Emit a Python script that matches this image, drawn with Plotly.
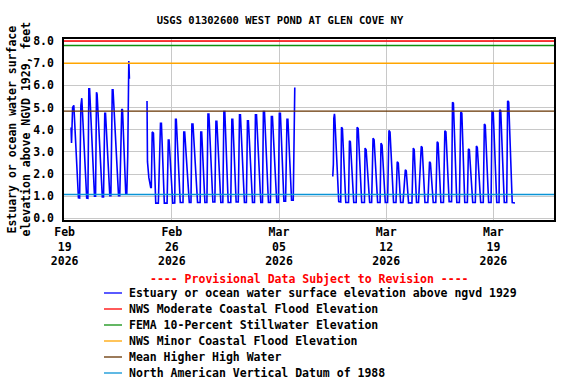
import pandas as pd
import plotly.graph_objects as go

START = pd.Timestamp("2026-02-19 00:00")

# ---- Data (days after 2026-02-19 00:00, elevation ft) ----
seg_a_days = [0.42, 0.45, 0.52, 0.60, 0.90, 0.98, 1.06, 1.12, 1.44, 1.52, 1.58, 1.63,
              1.95, 2.02, 2.08, 2.12, 2.46, 2.54, 2.62, 2.67, 2.95, 3.02, 3.11, 3.16,
              3.52, 3.60, 3.73, 3.78, 3.99, 4.06, 4.12, 4.16, 4.19, 4.23]
seg_a_elev = [4.10, 3.40, 5.00, 5.10, 0.93, 0.92, 5.10, 5.42, 0.92, 0.91, 5.84, 5.84,
              1.00, 1.00, 5.69, 5.60, 0.97, 0.97, 4.74, 4.74, 1.03, 1.03, 5.80, 5.80,
              1.03, 1.03, 4.93, 4.90, 1.14, 1.14, 2.80, 6.50, 7.10, 6.30]

seg_b_days = [5.38, 5.41, 5.50, 5.56, 5.62, 5.66, 5.69, 5.72, 5.80, 5.95, 6.12, 6.22,
              6.26, 6.32, 6.51, 6.69, 6.77, 6.82, 7.06, 7.19, 7.24, 7.29, 7.55, 7.73,
              7.78, 7.84, 8.14, 8.25, 8.31, 8.38, 8.68, 8.85, 8.89, 8.95, 9.16, 9.29,
              9.36, 9.42, 9.68, 9.81, 9.88, 9.94, 10.20, 10.33, 10.40, 10.46, 10.68, 10.85,
              10.92, 10.98, 11.20, 11.34, 11.42, 11.48, 11.74, 11.87, 11.94, 12.00, 12.27, 12.40,
              12.46, 12.53, 12.81, 12.92, 12.98, 13.05, 13.31, 13.44, 13.50, 13.57, 13.85, 13.96,
              14.02, 14.09, 14.32, 14.43, 14.52, 14.58, 14.82, 14.93, 14.98, 15.03]
seg_b_elev = [5.30, 2.56, 1.84, 1.59, 1.40, 1.40, 3.30, 3.90, 3.85, 0.69, 0.69, 4.00,
              4.29, 4.29, 0.69, 0.69, 3.54, 3.54, 0.69, 0.70, 4.47, 4.47, 0.72, 0.72,
              3.89, 3.89, 0.72, 0.72, 4.26, 4.26, 0.72, 0.72, 3.89, 3.89, 0.72, 0.72,
              4.71, 4.71, 0.74, 0.74, 4.38, 4.38, 0.72, 0.72, 4.82, 4.82, 0.72, 0.72,
              4.47, 4.47, 0.74, 0.74, 4.67, 4.67, 0.72, 0.72, 4.40, 4.40, 0.72, 0.72,
              4.67, 4.67, 0.72, 0.72, 4.82, 4.82, 0.72, 0.72, 4.59, 4.59, 0.72, 0.72,
              4.74, 4.74, 0.78, 0.78, 4.47, 4.47, 0.82, 0.82, 5.50, 5.90]

seg_c_days = [17.51, 17.55, 17.58, 17.62, 17.64, 17.90, 18.03, 18.08, 18.14, 18.36, 18.54,
              18.60, 18.66, 18.88, 19.04, 19.10, 19.17, 19.40, 19.58, 19.62, 19.69, 19.92, 20.05,
              20.14, 20.21, 20.44, 20.60, 20.66, 20.73, 20.94, 21.09, 21.18, 21.25, 21.48, 21.64,
              21.72, 21.79, 21.94, 22.10, 22.25, 22.31, 22.46, 22.68, 22.77, 22.83, 22.98, 23.11,
              23.29, 23.35, 23.53, 23.72, 23.83, 23.89, 24.07, 24.24, 24.33, 24.39, 24.57, 24.74,
              24.83, 24.90, 25.11, 25.27, 25.33, 25.39, 25.61, 25.78, 25.87, 25.94, 26.13, 26.30,
              26.37, 26.43, 26.65, 26.82, 26.89, 26.95, 27.17, 27.34, 27.41, 27.47, 27.69, 27.85,
              27.91, 27.99, 28.22, 28.37, 28.41, 28.48, 28.71, 28.87, 28.93, 29.00, 29.23, 29.41]
seg_c_elev = [1.89, 2.44, 4.52, 4.71, 4.60, 0.76, 0.74, 4.11, 4.05, 0.72, 0.72,
              3.50, 3.45, 0.72, 0.72, 4.11, 4.05, 0.72, 0.72, 3.17, 3.10, 0.72, 0.72,
              3.62, 3.55, 0.72, 0.72, 3.39, 3.30, 0.72, 0.72, 3.96, 3.90, 0.72, 0.72,
              2.56, 2.50, 0.72, 0.72, 2.19, 2.15, 0.70, 0.70, 3.17, 3.10, 0.72, 0.72,
              3.25, 3.20, 0.72, 0.72, 2.56, 2.50, 0.72, 0.72, 3.46, 3.40, 0.72, 0.72,
              3.95, 3.90, 0.76, 0.76, 5.24, 5.20, 0.72, 0.72, 4.79, 4.75, 0.72, 0.72,
              3.13, 3.10, 0.72, 0.72, 3.27, 3.20, 0.72, 0.72, 4.26, 4.20, 0.72, 0.72,
              4.82, 4.80, 0.72, 0.72, 4.89, 4.85, 0.72, 0.72, 5.30, 5.25, 0.72, 0.70]

series_name = "Estuary or ocean water surface elevation above ngvd 1929"
series_color = "#0000ff"

threshold_names = ["NWS Moderate Coastal Flood Elevation",
                   "FEMA 10-Percent Stillwater Elevation",
                   "NWS Minor Coastal Flood Elevation",
                   "Mean Higher High Water",
                   "North American Vertical Datum of 1988"]
threshold_vals = [8.0, 7.8, 7.0, 4.84, 1.08]
threshold_colors = ["#ff0000", "#109010", "#ffa500", "#663300", "#0a94d6"]

tick_dates = ["2026-02-19", "2026-02-26", "2026-03-05", "2026-03-12", "2026-03-19"]
tick_text = ["Feb<br>19<br>2026", "Feb<br>26<br>2026", "Mar<br>05<br>2026",
             "Mar<br>12<br>2026", "Mar<br>19<br>2026"]

title_text = "USGS 01302600 WEST POND AT GLEN COVE NY"
ylabel_lines = ["Estuary or ocean water surface", "elevation above NGVD 1929, feet"]
provisional_text = "---- Provisional Data Subject to Revision ----"

x_range = ["2026-02-18 23:00", "2026-03-22 23:00"]
y_range = [-0.07, 8.09]

# ---- Build the series ----
xs, ys = [], []
for d, e in [(seg_a_days, seg_a_elev), (seg_b_days, seg_b_elev), (seg_c_days, seg_c_elev)]:
    t = START + pd.to_timedelta(d, unit="D")
    xs.extend(list(t))
    ys.extend(e)
    xs.append(None)
    ys.append(None)

FONT = "DejaVu Sans Mono"
fig = go.Figure()
fig.add_trace(go.Scatter(x=xs, y=ys, mode="lines", name=series_name,
                         line=dict(color=series_color, width=1.6), connectgaps=False))
for n, v, c in zip(threshold_names, threshold_vals, threshold_colors):
    fig.add_trace(go.Scatter(x=x_range, y=[v, v], mode="lines", name=n,
                             line=dict(color=c, width=1.4)))

L, R, T, B = 64, 22, 39, 164
W, H = 576, 384
pw, ph = W - L - R, H - T - B

fig.update_layout(
    width=W, height=H, showlegend=False,
    margin=dict(l=L, r=R, t=T, b=B, pad=0),
    paper_bgcolor="white", plot_bgcolor="white",
    title=dict(text=title_text, x=280 / W, xanchor="center", xref="container",
               y=1 - 20.5 / H, yanchor="middle", yref="container",
               font=dict(family=FONT, size=10.5, color="black", weight="bold")),
    xaxis=dict(range=x_range, type="date", tickvals=tick_dates, ticktext=tick_text,
               showgrid=True, gridcolor="#c8c8c8", gridwidth=1,
               showline=True, linecolor="black", linewidth=1.5, mirror=True,
               ticks="", tickfont=dict(family=FONT, size=11.5, color="black", weight="bold")),
    yaxis=dict(range=y_range, dtick=1, tick0=0, tickformat=".1f",
               showgrid=True, gridcolor="#c8c8c8", gridwidth=1, zeroline=False,
               showline=True, linecolor="black", linewidth=1.5, mirror=True,
               ticks="", ticklabelstandoff=6,
               tickfont=dict(family=FONT, size=11.5, color="black", weight="bold")),
)

# y-axis title (two lines)
for i, line in enumerate(ylabel_lines):
    fig.add_annotation(text=line, xref="paper", yref="paper", x=0, y=0.5,
                       xshift=-(L - (11 + 14 * i)), textangle=-90, showarrow=False,
                       xanchor="center", yanchor="middle",
                       font=dict(family=FONT, size=11.5, color="black", weight="bold"))

def px_to_paper_y(py):
    return (H - B - py) / ph

def px_to_paper_x(px):
    return (px - L) / pw

# provisional text
fig.add_annotation(text=provisional_text, xref="paper", yref="paper",
                   x=0.5, y=px_to_paper_y(279), showarrow=False,
                   xanchor="center", yanchor="middle",
                   font=dict(family=FONT, size=11.5, color="#ff0000", weight="bold"))

# legend
legend_names = [series_name] + threshold_names
legend_colors = [series_color] + threshold_colors
for i, (n, c) in enumerate(zip(legend_names, legend_colors)):
    yy = 293 + 16 * i
    fig.add_shape(type="line", xref="paper", yref="paper",
                  x0=px_to_paper_x(104), x1=px_to_paper_x(122),
                  y0=px_to_paper_y(yy), y1=px_to_paper_y(yy),
                  line=dict(color=c, width=1.3))
    fig.add_annotation(text=n, xref="paper", yref="paper",
                       x=px_to_paper_x(127), y=px_to_paper_y(yy), showarrow=False,
                       xanchor="left", yanchor="middle",
                       font=dict(family=FONT, size=11.5, color="black", weight="bold"))

fig.write_html("out.html", config={"displayModeBar": False},
               post_script="document.body.style.margin='0';document.body.style.padding='0';")
